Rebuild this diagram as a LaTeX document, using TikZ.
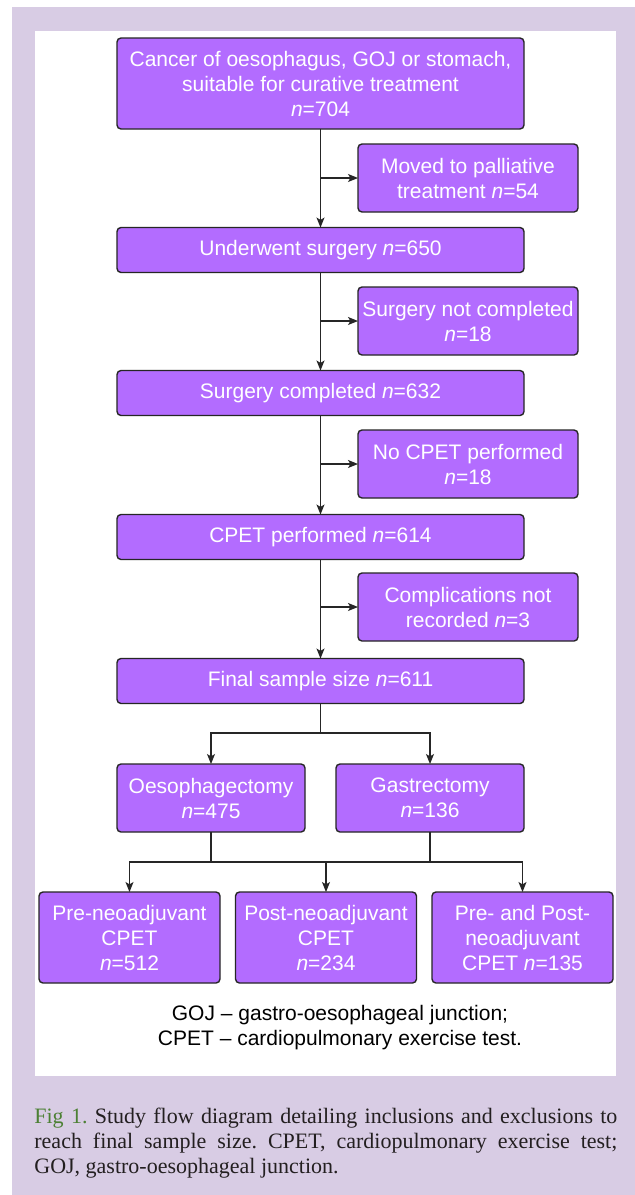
\documentclass[tikz,border=0pt]{standalone}
\usepackage{fontspec}
\setmainfont{Liberation Sans}
\newfontfamily\capfont{Liberation Serif}
\usetikzlibrary{arrows.meta}
\definecolor{Lavender}{RGB}{216,204,228}
\definecolor{BoxFill}{RGB}{179,108,255}
\definecolor{FigGreen}{RGB}{76,128,52}
\definecolor{Ink}{RGB}{35,31,32}
\frenchspacing

\begin{document}
\begin{tikzpicture}[x=0.5pt,y=-0.5pt,
    box/.style={draw=black!85,line width=0.7pt,fill=BoxFill,rounded corners=2pt,
      text=white,align=center,inner sep=1pt,outer sep=0pt,
      font=\fontsize{10.5}{12.5}\selectfont},
    mainbox/.style={box,minimum width=203.5pt,minimum height=22.5pt},
    sidebox/.style={box,minimum width=110pt,minimum height=34pt},
    armbox/.style={box,minimum width=94pt,minimum height=34pt},
    endbox/.style={box,minimum width=90.5pt,minimum height=45.5pt},
    flow/.style={draw=black!85,line width=0.6pt},
    arr/.style={flow,-{Stealth[length=5pt,width=4pt,inset=1.2pt]}}]
  \useasboundingbox (0,0) rectangle (635,1195);
  \fill[white] (0,0) rectangle (635,1195);
  \fill[Lavender] (12,7) rectangle (635,1195);
  \fill[white] (35,31) rectangle (616,1076);

  % main column
  \node[mainbox,minimum height=45.5pt] (cancer) at (320.5,83.5)
    {Cancer of oesophagus, GOJ or stomach,\\suitable for curative treatment\\\textit{n}=704};
  \node[mainbox] (surgery) at (320.5,250) {Underwent surgery \textit{n}=650};
  \node[mainbox] (completed) at (320.5,393) {Surgery completed \textit{n}=632};
  \node[mainbox] (cpet) at (320.5,537) {CPET performed \textit{n}=614};
  \node[mainbox] (final) at (320.5,681) {Final sample size \textit{n}=611};

  % exclusions
  \node[sidebox] (palliative) at (468,178) {Moved to palliative\\treatment \textit{n}=54};
  \node[sidebox] (notdone) at (468,321) {Surgery not completed\\\textit{n}=18};
  \node[sidebox] (nocpet) at (468,464) {No CPET performed\\\textit{n}=18};
  \node[sidebox] (norecord) at (468,607) {Complications not\\recorded \textit{n}=3};

  % operation type and CPET timing
  \node[armbox] (oeso) at (211,798) {Oesophagectomy\\\textit{n}=475};
  \node[armbox] (gastro) at (430,798) {Gastrectomy\\\textit{n}=136};
  \node[endbox] (pre) at (129.5,937.5) {Pre-neoadjuvant\\CPET\\\textit{n}=512};
  \node[endbox] (post) at (326,937.5) {Post-neoadjuvant\\CPET\\\textit{n}=234};
  \node[endbox] (prepost) at (522.5,937.5) {Pre- and Post-\\neoadjuvant\\CPET \textit{n}=135};

  \draw[arr] (cancer.south) -- (surgery.north);
  \draw[arr] (cancer.south |- palliative.west) -- (palliative.west);
  \draw[arr] (surgery.south) -- (completed.north);
  \draw[arr] (surgery.south |- notdone.west) -- (notdone.west);
  \draw[arr] (completed.south) -- (cpet.north);
  \draw[arr] (completed.south |- nocpet.west) -- (nocpet.west);
  \draw[arr] (cpet.south) -- (final.north);
  \draw[arr] (cpet.south |- norecord.west) -- (norecord.west);

  \coordinate (split) at (320.5,733);
  \draw[flow] (final.south) -- (split);
  \draw[arr] (split) -| (oeso.north);
  \draw[arr] (split) -| (gastro.north);

  \coordinate (bar) at (326,862);
  \draw[flow] (oeso.south) -- (oeso.south |- bar);
  \draw[flow] (gastro.south) -- (gastro.south |- bar);
  \draw[arr] (bar) -| (pre.north);
  \draw[arr] (bar) -| (prepost.north);
  \draw[arr] (bar) -- (post.north);

  \node[align=center,font=\fontsize{10.5}{12.5}\selectfont] (key) at (340,1028)
    {GOJ -- gastro-oesophageal junction;\\CPET -- cardiopulmonary exercise test.};

  \node[anchor=north west,inner sep=0pt,text width=291.5pt,align=justify,text=Ink,
    font=\capfont\fontsize{11}{12.5}\selectfont] (caption) at (34,1108)
    {\textcolor{FigGreen}{Fig 1.} Study flow diagram detailing inclusions and exclusions to\linebreak
     reach final sample size. CPET, cardiopulmonary exercise test;\linebreak
     GOJ, gastro-oesophageal junction.};
\end{tikzpicture}
\end{document}
